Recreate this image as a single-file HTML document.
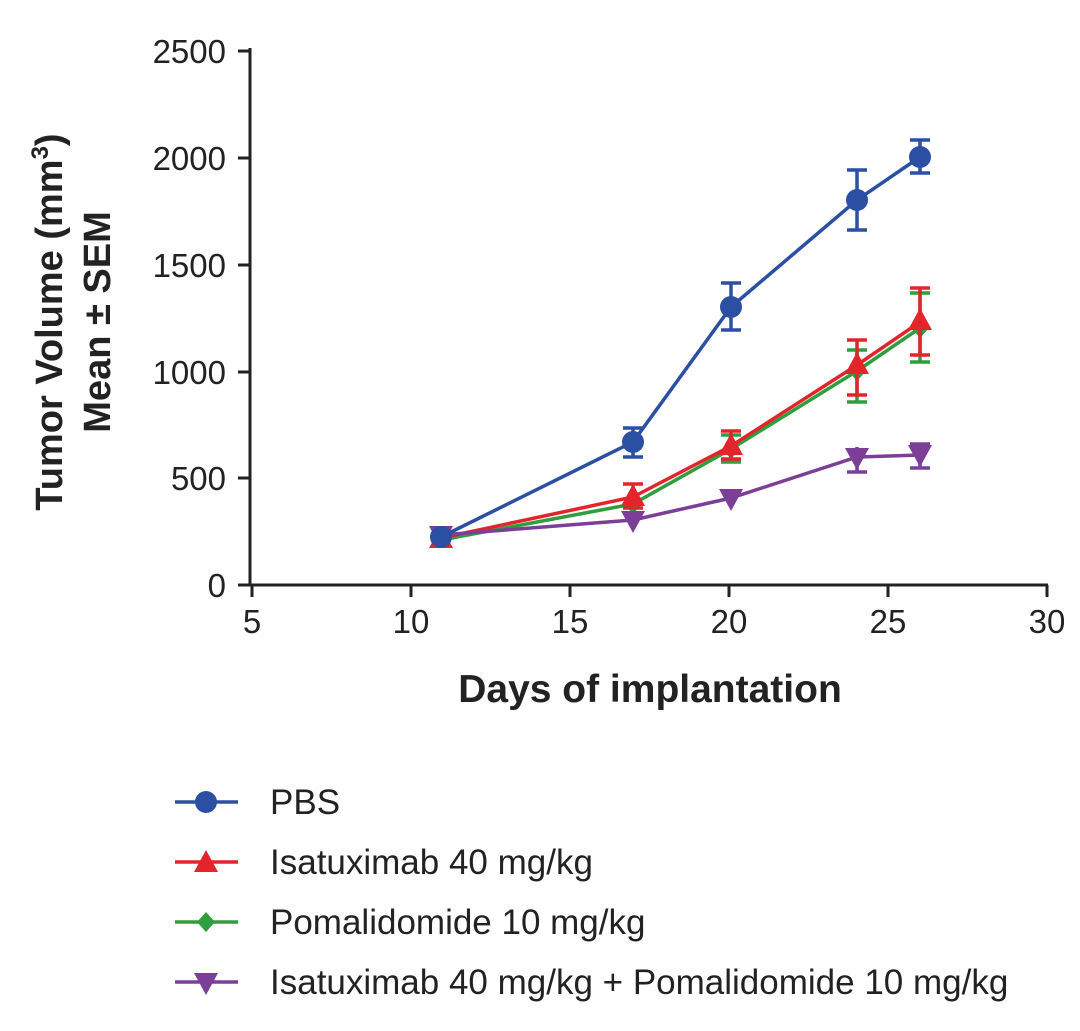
<!DOCTYPE html>
<html><head><meta charset="utf-8"><style>body{margin:0;background:#fff}</style></head><body>
<svg width="1080" height="1026" xmlns="http://www.w3.org/2000/svg" font-family="Liberation Sans, sans-serif">
<rect width="1080" height="1026" fill="#fff"/>
<g stroke="#222" stroke-width="3" fill="none">
<line x1="250" y1="48" x2="250" y2="586"/>
<line x1="249" y1="585" x2="1048" y2="585"/>
<line x1="238" y1="51" x2="250" y2="51"/><line x1="238" y1="158" x2="250" y2="158"/><line x1="238" y1="265" x2="250" y2="265"/><line x1="238" y1="372" x2="250" y2="372"/><line x1="238" y1="478" x2="250" y2="478"/><line x1="238" y1="585" x2="250" y2="585"/>
<line x1="252" y1="585" x2="252" y2="597"/><line x1="411" y1="585" x2="411" y2="597"/><line x1="570" y1="585" x2="570" y2="597"/><line x1="729" y1="585" x2="729" y2="597"/><line x1="888" y1="585" x2="888" y2="597"/><line x1="1047" y1="585" x2="1047" y2="597"/>
</g>
<g font-size="33" fill="#222" text-anchor="end">
<text x="226" y="63">2500</text><text x="226" y="170">2000</text><text x="226" y="277">1500</text><text x="226" y="384">1000</text><text x="226" y="490">500</text><text x="226" y="597">0</text>
</g>
<g font-size="33" fill="#222" text-anchor="middle">
<text x="252" y="633">5</text><text x="411" y="633">10</text><text x="570" y="633">15</text><text x="729" y="633">20</text><text x="888" y="633">25</text><text x="1047" y="633">30</text>
</g>
<text x="650" y="702" font-size="39" font-weight="bold" text-anchor="middle" fill="#222">Days of implantation</text>
<g transform="translate(62,322) rotate(-90)" font-size="38" font-weight="bold" fill="#222" text-anchor="middle">
<text x="0" y="0">Tumor Volume (mm<tspan font-size="24" dy="-14">3</tspan><tspan dy="14">)</tspan></text>
<text x="0" y="48">Mean ± SEM</text>
</g>
<!-- green -->
<g stroke="#2e9e3e" stroke-width="3.5" fill="none">
<polyline points="441,540 633,504 731,449 857,371 920,328"/>
<path d="M857,350V402M847,350h20M847,402h20 M920,293V362M910,293h20M910,362h20 M731,435V462M721,435h20M721,462h20"/>
</g>
<g fill="#2e9e3e"><path d="M633,494 l9,10 -9,10 -9,-10z M731,439 l9,10 -9,10 -9,-10z M857,361 l9,10 -9,10 -9,-10z M920,318 l9,10 -9,10 -9,-10z"/></g>
<!-- red -->
<g stroke="#e3242b" stroke-width="3.5" fill="none">
<polyline points="441,538 633,497 731,446 857,365 920,322"/>
<path d="M633,484V508M623,484h20M623,508h20 M731,431V459M721,431h20M721,459h20 M857,340V395M847,340h20M847,395h20 M920,288V355M910,288h20M910,355h20"/>
</g>
<g fill="#e3242b"><path d="M441,526l12,22h-24z M633,484l12,22h-24z M731,433l12,22h-24z M857,352l12,22h-24z M920,308l12,22h-24z"/></g>
<!-- purple -->
<g stroke="#7b3f98" stroke-width="3.5" fill="none">
<polyline points="441,535 633,520 731,498 857,457 920,455"/>
<path d="M857,447V472M847,472h20 M920,443V468M910,468h20M910,444h20"/>
</g>
<g fill="#7b3f98"><path d="M429,526h24l-12,22z M621,511h24l-12,22z M719,489h24l-12,22z M845,448h24l-12,22z M908,445h24l-12,22z"/></g>
<!-- blue -->
<g stroke="#2b4fa3" stroke-width="3.5" fill="none">
<polyline points="441,537 633,442 731,307 857,200 920,157"/>
<path d="M633,428V457M623,428h20M623,457h20 M731,283V330M721,283h20M721,330h20 M857,170V230M847,170h20M847,230h20 M920,140V173M910,140h20M910,173h20"/>
</g>
<g fill="#2b4fa3"><circle cx="441" cy="537" r="11"/><circle cx="633" cy="442" r="11"/><circle cx="731" cy="307" r="11"/><circle cx="857" cy="200" r="11"/><circle cx="920" cy="157" r="11"/></g>
<!-- legend -->
<g stroke-width="3.5">
<line x1="175" y1="802" x2="238" y2="802" stroke="#2b4fa3"/><circle cx="206" cy="802" r="11" fill="#2b4fa3"/>
<line x1="175" y1="862" x2="238" y2="862" stroke="#e3242b"/><path d="M206,850l12,22h-24z" fill="#e3242b"/>
<line x1="175" y1="922" x2="238" y2="922" stroke="#2e9e3e"/><path d="M206,912l9,10 -9,10 -9,-10z" fill="#2e9e3e"/>
<line x1="175" y1="982" x2="238" y2="982" stroke="#7b3f98"/><path d="M194,973h24l-12,22z" fill="#7b3f98"/>
</g>
<g font-size="35" fill="#222">
<text x="270" y="814">PBS</text>
<text x="270" y="874">Isatuximab 40 mg/kg</text>
<text x="270" y="934">Pomalidomide 10 mg/kg</text>
<text x="270" y="994">Isatuximab 40 mg/kg + Pomalidomide 10 mg/kg</text>
</g>
</svg>
</body></html>
